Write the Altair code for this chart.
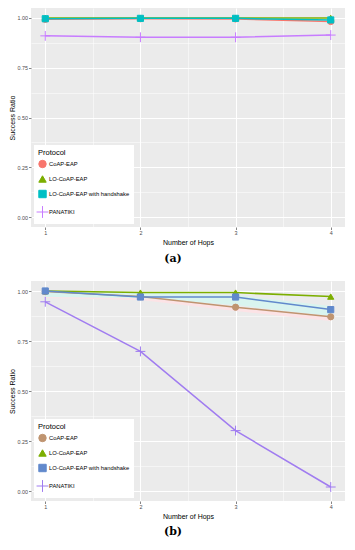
import altair as alt
import pandas as pd

hops = [1, 2, 3, 4]
protocols = ["CoAP-EAP", "LO-CoAP-EAP", "LO-CoAP-EAP with handshake", "PANATIKI"]

# Panel (a)
a_coap = [0.993, 0.996, 0.995, 0.982]
a_lo = [1.0, 1.0, 1.0, 1.0]
a_hs = [0.996, 0.998, 0.998, 0.99]
a_pan = [0.91, 0.903, 0.903, 0.914]

# Panel (b)
b_coap = [0.997, 0.972, 0.919, 0.871]
b_lo = [1.0, 0.992, 0.992, 0.972]
b_hs = [1.0, 0.97, 0.97, 0.907]
b_pan = [0.946, 0.698, 0.302, 0.02]

# faint bands seen in panel (b)
b_coap_lo = [0.965, 0.955, 0.90, 0.85]
b_coap_hi = [1.0, 0.975, 0.92, 0.872]
b_hs_lo = [0.97, 0.965, 0.93, 0.875]
b_hs_hi = [1.0, 0.995, 0.98, 0.925]

captions = ["(a)", "(b)"]

colors_a = ["#F8766D", "#7CAE00", "#00BFC4", "#C77CFF"]
colors_b = ["#BF9470", "#7CAE00", "#6189CC", "#A07CF0"]
shapes = ["circle", "triangle-up", "square", "M-1.6,0L1.6,0M0,-1.6L0,1.6"]

FONT = "Liberation Sans"
W = 314


def long_df(series):
    rows = []
    for p, vals in zip(protocols, series):
        for h, v in zip(hops, vals):
            rows.append({"hop": h, "value": v, "protocol": p})
    return pd.DataFrame(rows)


xaxis = alt.Axis(
    values=[1, 1.5, 2, 2.5, 3, 3.5, 4],
    labelExpr="datum.value % 1 === 0 ? format(datum.value, 'd') : ''",
    gridWidth={"condition": {"test": "datum.value % 1 !== 0", "value": 0.5}, "value": 1},
    tickOpacity={"condition": {"test": "datum.value % 1 !== 0", "value": 0}, "value": 1},
    title="Number of Hops",
)
yaxis = alt.Axis(
    values=[0, 0.125, 0.25, 0.375, 0.5, 0.625, 0.75, 0.875, 1.0],
    labelExpr="datum.value % 0.25 === 0 ? format(datum.value, '.2f') : ''",
    gridWidth={"condition": {"test": "datum.value % 0.25 !== 0", "value": 0.5}, "value": 1},
    tickOpacity={"condition": {"test": "datum.value % 0.25 !== 0", "value": 0}, "value": 1},
    title="Success Ratio",
    titlePadding=2,
)


def panel(series, colors, h, bands=None):
    df = long_df(series)
    xs = alt.Scale(domain=[0.85, 4.15], nice=False, zero=False)
    ys = alt.Scale(domain=[-0.05, 1.05], nice=False, zero=False)
    cs = alt.Scale(domain=protocols, range=colors)
    leg = alt.Legend(title="Protocol")
    layers = []
    if bands is not None:
        for lo, hi, col in bands:
            bdf = pd.DataFrame({"hop": hops, "lo": lo, "hi": hi})
            layers.append(
                alt.Chart(bdf).mark_area(color=col, opacity=1).encode(
                    x=alt.X("hop:Q", scale=xs, axis=xaxis),
                    y=alt.Y("lo:Q", scale=ys, axis=yaxis),
                    y2="hi:Q",
                )
            )
    base = alt.Chart(df)
    line = base.mark_line(strokeWidth=1.5).encode(
        x=alt.X("hop:Q", scale=xs, axis=xaxis),
        y=alt.Y("value:Q", scale=ys, axis=yaxis),
        color=alt.Color("protocol:N", scale=cs, legend=leg, sort=protocols),
    )
    pts = base.mark_point(filled=True, size=38, strokeWidth=1, opacity=1).encode(
        x=alt.X("hop:Q", scale=xs, axis=xaxis),
        y=alt.Y("value:Q", scale=ys, axis=yaxis),
        color=alt.Color("protocol:N", scale=cs, legend=leg, sort=protocols),
        stroke=alt.Stroke("protocol:N", scale=cs, legend=leg, sort=protocols),
        shape=alt.Shape("protocol:N", scale=alt.Scale(domain=protocols, range=shapes),
                        legend=leg, sort=protocols),
    )
    layers += [line, pts]
    return alt.layer(*layers).properties(width=W, height=h)


def caption(text, h, y):
    return alt.Chart(pd.DataFrame({"t": [text]})).mark_text(
        font="DejaVu Serif", fontSize=11, fontWeight="bold", color="black",
        baseline="middle", align="center",
    ).encode(
        text="t:N", x=alt.value(142), y=alt.value(y),
    ).properties(width=W, height=h, view=alt.ViewBackground(fill=None, stroke=None))


pa = panel([a_coap, a_lo, a_hs, a_pan], colors_a, 219)
pb = panel([b_coap, b_lo, b_hs, b_pan], colors_b, 220,
           bands=[(b_coap_lo, b_coap_hi, "#FCE3E6"), (b_hs_lo, b_hs_hi, "#D9F4EF")])

chart = alt.vconcat(
    pa, caption(captions[0], 23, 7), pb, caption(captions[1], 10, 5), spacing=6
).resolve_scale(
    color="independent", stroke="independent", shape="independent"
).resolve_legend(
    color="independent", stroke="independent", shape="independent"
).properties(padding=0).configure_view(
    fill="#EBEBEB", stroke=None
).configure_axis(
    domain=False, gridColor="white", tickColor="#333333", tickSize=2.5, tickWidth=0.6,
    labelFont=FONT, labelFontSize=5.4, labelColor="#4D4D4D", labelPadding=1,
    titleFont=FONT, titleFontSize=7, titleFontWeight="normal", titleColor="black",
    titlePadding=3,
).configure_legend(
    orient="bottom-left", offset=3, fillColor="white", padding=4,
    titleFont=FONT, titleFontSize=7.5, titleFontWeight="normal", titleColor="black",
    labelFont=FONT, labelFontSize=5.8, labelColor="black", symbolSize=55,
    rowPadding=3, titlePadding=3, symbolStrokeWidth=1, labelOffset=2,
)

chart.save("out.html", embed_options={"renderer": "svg", "actions": False})
